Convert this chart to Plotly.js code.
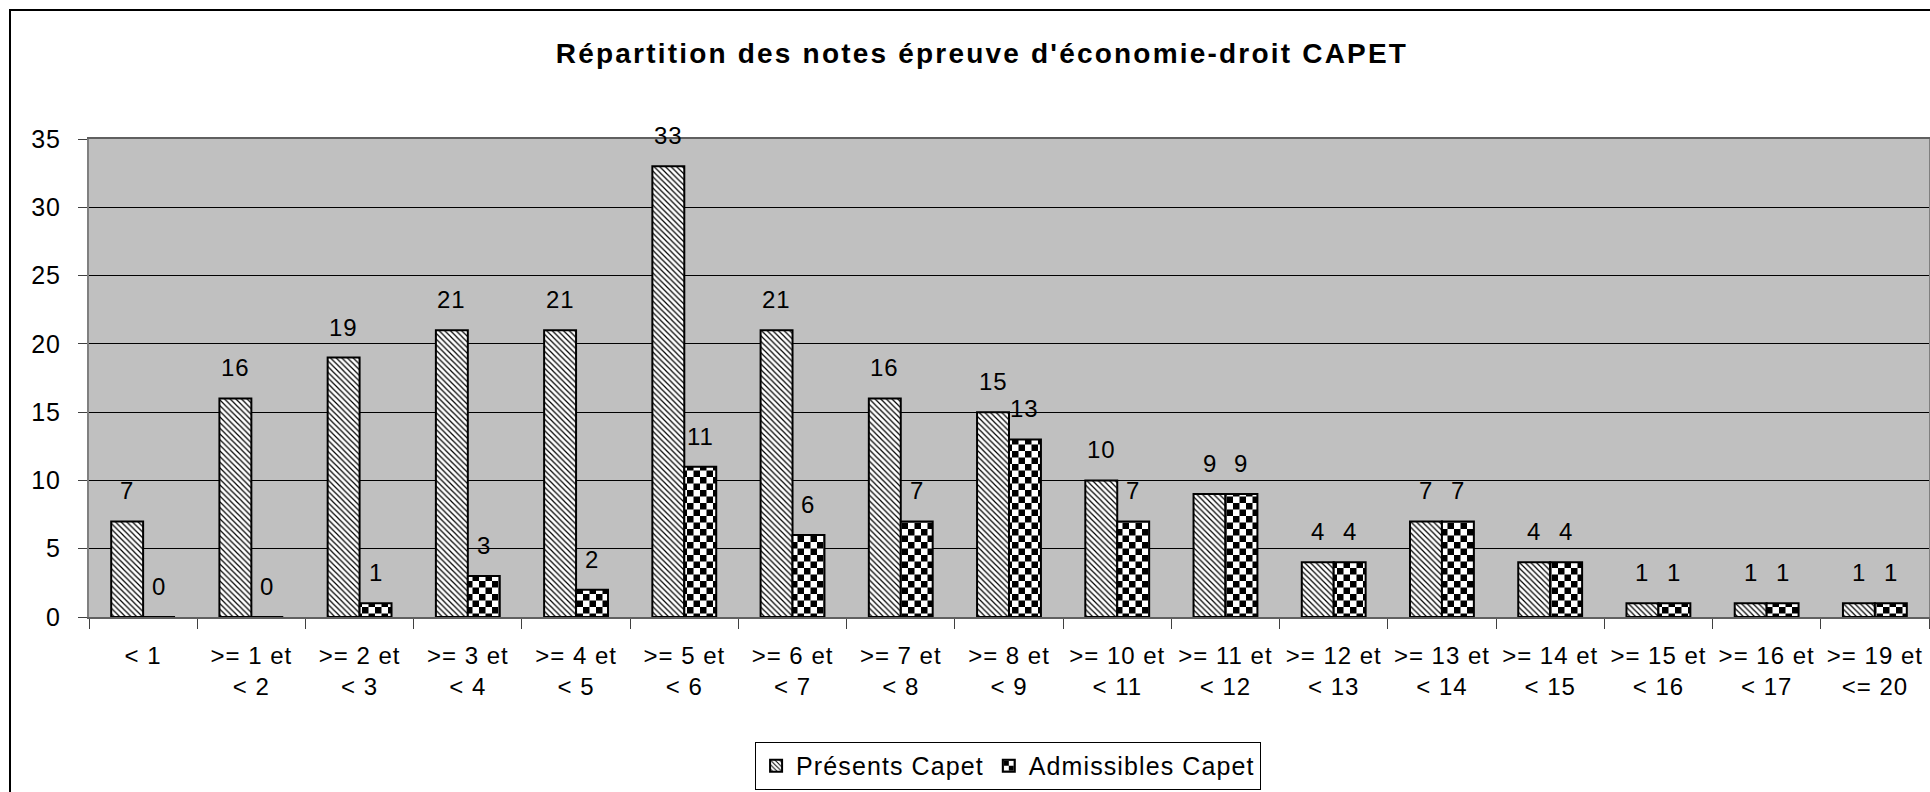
<!DOCTYPE html>
<html>
<head>
<meta charset="utf-8">
<script src="https://cdn.plot.ly/plotly-3.0.1.min.js"></script>
<style>
html, body { margin: 0; padding: 0; background: #fff; }
#wrap { position: relative; width: 1930px; height: 792px; overflow: hidden; }
#chart { width: 1930px; height: 792px; }
#frame { position: absolute; left: 9px; top: 9px; width: 1940px; height: 800px;
         border-left: 2px solid #000; border-top: 2px solid #000; pointer-events: none; }
.gtitle { letter-spacing: 2.2px; }
.xtick text, .ytick text { letter-spacing: 1px; }
.legendtext { letter-spacing: 1.1px; }
.annotation-text { letter-spacing: 1px; }
</style>
</head>
<body>
<div id="wrap"><div id="chart"></div><div id="frame"></div></div>
<script>
const categories = ["< 1", ">= 1 et < 2", ">= 2 et < 3", ">= 3 et < 4", ">= 4 et < 5",
  ">= 5 et < 6", ">= 6 et < 7", ">= 7 et < 8", ">= 8 et < 9", ">= 10 et < 11",
  ">= 11 et < 12", ">= 12 et < 13", ">= 13 et < 14", ">= 14 et < 15", ">= 15 et < 16",
  ">= 16 et < 17", ">= 19 et <= 20"];
const tickLabels = ["&lt; 1", "&gt;= 1 et<br>&lt; 2", "&gt;= 2 et<br>&lt; 3", "&gt;= 3 et<br>&lt; 4",
  "&gt;= 4 et<br>&lt; 5", "&gt;= 5 et<br>&lt; 6", "&gt;= 6 et<br>&lt; 7", "&gt;= 7 et<br>&lt; 8",
  "&gt;= 8 et<br>&lt; 9", "&gt;= 10 et<br>&lt; 11", "&gt;= 11 et<br>&lt; 12", "&gt;= 12 et<br>&lt; 13",
  "&gt;= 13 et<br>&lt; 14", "&gt;= 14 et<br>&lt; 15", "&gt;= 15 et<br>&lt; 16", "&gt;= 16 et<br>&lt; 17",
  "&gt;= 19 et<br>&lt;= 20"];
const presents = [7, 16, 19, 21, 21, 33, 21, 16, 15, 10, 9, 4, 7, 4, 1, 1, 1];
const admissibles = [0, 0, 1, 3, 2, 11, 6, 7, 13, 7, 9, 4, 7, 4, 1, 1, 1];
const seriesNames = ["Présents Capet", "Admissibles Capet"];
const chartTitle = "Répartition des notes épreuve d'économie-droit CAPET";
const yTicks = [0, 5, 10, 15, 20, 25, 30, 35];

const FONT = "Liberation Sans, Arial, Helvetica, sans-serif";
const BARGAP = 0.41;
const off = (1 - BARGAP) / 4;

const data = [
  {
    type: 'bar', name: seriesNames[0], x: categories, y: presents,
    marker: { color: '#ffffff', line: { color: '#000', width: 2 },
      pattern: { shape: '\\', fgcolor: '#000', bgcolor: '#ffffff', size: 4, solidity: 0.3 } },
    hoverinfo: 'none'
  },
  {
    type: 'bar', name: seriesNames[1], x: categories, y: admissibles,
    marker: { color: '#ffffff', line: { color: '#000', width: 2 },
      pattern: { shape: '.', fgcolor: '#000', bgcolor: '#ffffff', size: 12, solidity: 0.4 } },
    hoverinfo: 'none'
  }
];

const annotations = [];
[presents, admissibles].forEach((vals, s) => {
  vals.forEach((v, i) => {
    annotations.push({
      x: i + (s === 0 ? -off : off), y: v, xref: 'x', yref: 'y',
      text: String(v), showarrow: false, yanchor: 'bottom', yshift: 15,
      font: { family: FONT, size: 24, color: '#000' }
    });
  });
});

const layout = {
  width: 1930, height: 792,
  margin: { l: 89, r: 1, t: 139, b: 175 },
  paper_bgcolor: '#ffffff', plot_bgcolor: '#c0c0c0',
  font: { family: FONT, size: 24, color: '#000' },
  title: { text: chartTitle, xref: 'container', x: 0.5088, xanchor: 'center',
           yref: 'container', y: 0.933, yanchor: 'middle',
           font: { family: FONT, size: 28, weight: 'bold', color: '#000' } },
  barmode: 'group', bargap: BARGAP, bargroupgap: 0,
  showlegend: true,
  legend: { orientation: 'h', x: 0.4995, xanchor: 'center', y: -0.2615, yanchor: 'top',
            bordercolor: '#000', borderwidth: 1, bgcolor: '#fff',
            font: { family: FONT, size: 25, color: '#000' }, traceorder: 'normal' },
  xaxis: { type: 'category', tickvals: categories, ticktext: tickLabels,
           tickson: 'boundaries', ticks: 'outside', ticklen: 10, tickwidth: 1, tickcolor: '#404040',
           showline: true, linecolor: '#606060', linewidth: 2, mirror: true,
           showgrid: false, ticklabelstandoff: 16,
           tickfont: { family: FONT, size: 24, color: '#000' } },
  yaxis: { range: [0, 35], tickvals: yTicks, ticks: 'outside', ticklen: 9, tickwidth: 1, tickcolor: '#404040',
           showline: true, linecolor: '#808080', linewidth: 2, mirror: true,
           showgrid: true, gridcolor: '#000', gridwidth: 1, zeroline: false,
           ticklabelstandoff: 12,
           tickfont: { family: FONT, size: 25, color: '#000' } },
  annotations: annotations
};

const gd = document.getElementById('chart');
Plotly.newPlot(gd, data, layout, { staticPlot: true, displayModeBar: false }).then(() => {
  const ns = 'http://www.w3.org/2000/svg';
  gd.querySelectorAll('pattern').forEach(p => {
    if (!p.querySelector('circle')) return;
    const s = 13, h = 6.5;
    p.setAttribute('width', s); p.setAttribute('height', s);
    p.setAttribute('patternUnits', 'userSpaceOnUse');
    while (p.firstChild) p.removeChild(p.firstChild);
    const mk = (x, y, w, c) => {
      const r = document.createElementNS(ns, 'rect');
      r.setAttribute('x', x); r.setAttribute('y', y);
      r.setAttribute('width', w); r.setAttribute('height', w);
      r.setAttribute('fill', c);
      p.appendChild(r);
    };
    mk(0, 0, s, '#ffffff'); mk(0, 0, h, '#000000'); mk(h, h, h, '#000000');
  });
});
</script>
</body>
</html>
